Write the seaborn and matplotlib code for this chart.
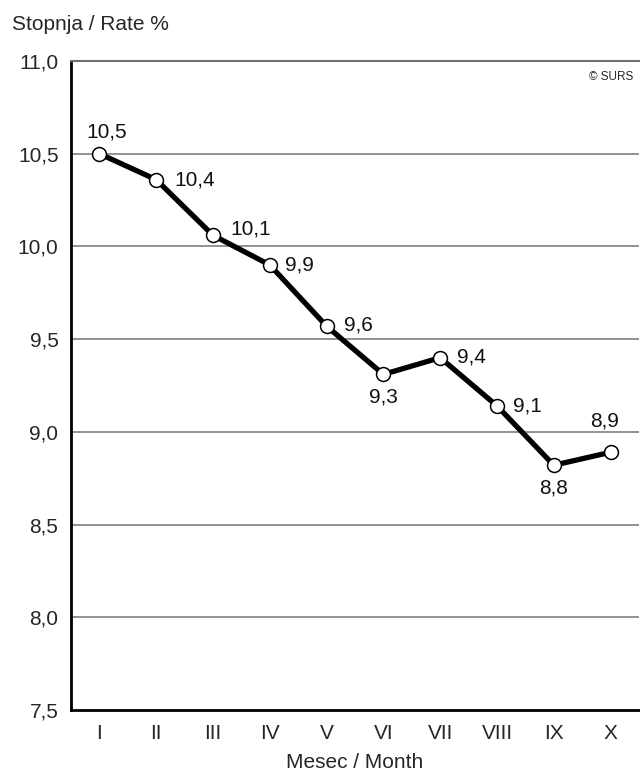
import numpy as np
import pandas as pd
import matplotlib
matplotlib.use("Agg")
import matplotlib.pyplot as plt
import seaborn as sns

# data
months = ["I", "II", "III", "IV", "V", "VI", "VII", "VIII", "IX", "X"]
rates = [10.50, 10.36, 10.06, 9.90, 9.57, 9.31, 9.40, 9.14, 8.82, 8.89]
labels = ["10,5", "10,4", "10,1", "9,9", "9,6", "9,3", "9,4", "9,1", "8,8", "8,9"]
yticks = [7.5, 8.0, 8.5, 9.0, 9.5, 10.0, 10.5, 11.0]

# label offsets in pixels (dx, dy) and alignment
offsets = [(7, 22, "center"), (18, 0, "left"), (17, 6, "left"), (15, 0, "left"),
           (17, 1, "left"), (0, -23, "center"), (17, 1, "left"), (16, 0, "left"),
           (0, -23, "center"), (-6, 31, "center")]

df = pd.DataFrame({"month": months, "rate": rates})

sns.set_style("white")
plt.rcParams["font.family"] = ["Liberation Sans", "DejaVu Sans"]

fig = plt.figure(figsize=(6.4, 7.76), dpi=100)
ax = fig.add_axes([71 / 640, 66 / 776, 568 / 640, 649 / 776])

sns.lineplot(data=df, x="month", y="rate", sort=False, ax=ax, color="black",
             linewidth=3.8, marker="o", markersize=10, markerfacecolor="white",
             markeredgecolor="black", markeredgewidth=1.1, zorder=3)

ax.set_ylim(7.5, 11.0)
ax.set_xlim(-0.5, len(months) - 0.5)
ax.set_yticks(yticks)
ax.set_yticklabels([f"{v:.1f}".replace(".", ",") for v in yticks], fontsize=15)
ax.set_xticks(range(len(months)))
ax.set_xticklabels(months, fontsize=15)
ax.set_xticks(np.arange(-0.5, len(months), 1), minor=True)
ax.tick_params(axis="x", which="major", length=0, pad=10)
ax.tick_params(axis="x", which="minor", length=5, width=1, color="#333333")
ax.tick_params(axis="y", length=7, width=1, color="#333333", pad=2)

for v in yticks[1:-1]:
    ax.axhline(v, color="#7f7f7f", linewidth=1.2, zorder=1)

ax.spines["top"].set_color("#6f6f6f")
ax.spines["top"].set_linewidth(1.5)
ax.spines["right"].set_visible(False)
ax.spines["left"].set_color("black")
ax.spines["left"].set_linewidth(2)
ax.spines["bottom"].set_color("black")
ax.spines["bottom"].set_linewidth(2)

for i, (lab, (dx, dy, ha)) in enumerate(zip(labels, offsets)):
    ax.annotate(lab, (i, rates[i]), xytext=(dx, dy), textcoords="offset pixels",
                ha=ha, va="center", fontsize=15, color="#111111")

ax.set_xlabel("Mesec / Month", fontsize=15, labelpad=7)
ax.set_ylabel("")
fig.text(12 / 640, 1 - 25 / 776, "Stopnja / Rate %", fontsize=15, va="center", ha="left")
ax.text(0.99, 0.975, "© SURS", transform=ax.transAxes, fontsize=8.5, ha="right", va="center")

fig.savefig("out.png", dpi=100)
